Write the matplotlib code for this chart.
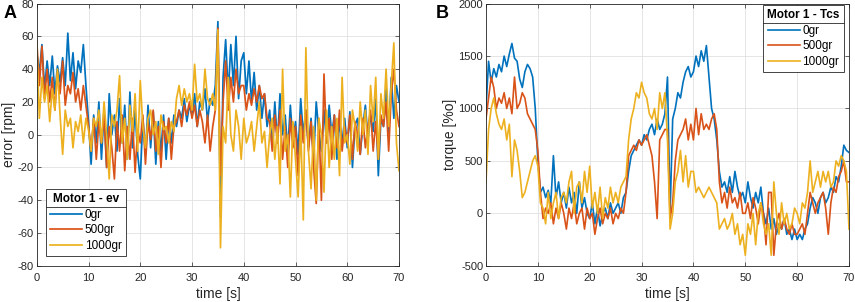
import matplotlib
matplotlib.use('Agg')
import matplotlib.pyplot as plt
import numpy as np

plt.rcParams['font.family'] = ['Liberation Sans', 'DejaVu Sans']
plt.rcParams['axes.unicode_minus'] = False

# time axis, 0.5 s steps
t = np.arange(0, 70.01, 0.5)

# speed error [rpm]
ev_0 = [50, 38, 55, 28, 45, 30, 48, 25, 42, 32,
        47, 30, 62, 33, 50, 28, 45, 38, 55, 30,
        8, -18, 12, -5, 20, -15, 15, -20, 25, 0,
        12, -10, 22, -5, 18, -15, 26, -8, 15, -12,
        -27, 10, -12, 18, -8, 14, -18, 8, -10, 12,
        -15, 10, -5, 12, 5, 15, 10, 22, 8, 18,
        12, 25, 5, 20, 15, 28, 8, 22, 18, 30,
        69, -50, 35, 58, 25, 55, 30, 60, 22, 45,
        50, 25, 45, 20, 38, 15, 30, 10, 25, 5,
        15, -8, 20, -5, 25, 0, 12, -10, 18, -5,
        8, -12, 22, 0, 15, -8, 10, -15, 20, 2,
        -10, 15, -5, 18, 0, 12, -15, 8, -5, 10,
        -8, 14, -20, 6, 10, -12, 5, 18, -3, 12,
        2, 22, -25, 10, 5, 28, 0, 35, 10, 30,
        20]
ev_500 = [57, 30, 54, 22, 40, 20, 35, 15, 38, 25,
          45, 18, 30, 25, 38, 20, 28, 15, 30, 18,
          5, -10, 10, -15, 8, -5, 12, -20, 5, -8,
          -27, 8, -10, 12, -22, 5, -15, 10, -23, 3,
          -5, 12, -18, 8, -3, 15, -10, 5, -20, 8,
          -5, 10, -15, 5, 8, 15, 5, 18, 12, 20,
          10, 18, 5, 15, 8, -5, 12, -10, 5, 15,
          65, -25, 20, 45, 15, 35, 20, 40, 25, 30,
          30, 15, 25, 18, 28, 20, 30, 22, 25, 10,
          8, -10, 12, -5, 15, -15, 5, -20, 10, -8,
          5, -25, 12, -5, 15, -10, 8, -20, -42, 10,
          -40, 37, -5, 10, -15, 12, -8, 15, -10, 5,
          -5, 12, -15, 8, 0, -12, 10, -8, 5, 15,
          -10, 8, -15, 12, 5, 20, -10, 25, 40, 15,
          5]
ev_1000 = [55, 10, 35, 20, 30, 8, 28, 15, 40, 12,
           -12, 15, 5, 10, -8, 8, 2, 12, -5, 10,
           3, -10, 10, 5, 15, -5, 20, 0, -27, 12,
           5, 15, 36, -5, 10, -15, 18, 2, 25, -10,
           33, 5, -8, 10, 15, 0, 8, -12, 12, 3,
           5, -5, 8, 2, 22, 30, 18, 28, 20, 25,
           15, 43, 20, 25, 15, 40, 22, 18, 25, 15,
           64, -69, 5, -5, 35, 0, -10, 15, 5, -15,
           10, -5, 0, 8, -10, 5, 20, -5, 2, -20,
           0, 10, -15, 5, -30, 40, -10, 0, -38, 8,
           -15, -38, 5, -52, 53, -10, -33, 5, -40, 10,
           0, -35, 15, -20, 5, -15, 10, -25, 35, -5,
           0, -18, 15, 5, -10, 20, 0, 15, -12, 30,
           8, 35, -15, 25, 10, 40, 5, 30, 56, -5,
           -22]

# torque [%o]
tq_0 = [1000, 1450, 1250, 1380, 1300, 1420, 1350, 1500, 1400, 1520,
        1620, 1480, 1450, 1280, 1200, 1350, 1420, 1380, 1300, 1000,
        500, 200, 250, 150, 220, 100, 550, 150, 300, 100,
        200, 50, 250, 100, 200, 0, 300, 50, 150, 0,
        -50, 100, -100, 50, -120, 0, 50, -50, 100, 0,
        50, 100, 0, 150, 200, 400, 550, 600, 650, 700,
        650, 750, 700, 800, 850, 750, 900, 800, 850, 950,
        1300, 0, 900, 1000, 1150, 1100, 1250, 1350, 1400, 1300,
        1350, 1500, 1400, 1550, 1450, 1600, 1300, 1000, 900, 700,
        400, 250, 300, 200, 350, 200, 400, 250, 150, 200,
        100, 300, 150, 50, 200, 100, 250, 0, -100, 50,
        -150, -50, -200, -100, -150, -50, -200, -150, -250, -150,
        -250, -200, -250, -150, -100, 50, 150, 100, 0, 150,
        200, 100, 150, 250, 200, 350, 300, 450, 650, 600,
        580]
tq_500 = [900, 1100, 1300, 1200, 1000, 1100, 1050, 1150, 1000, 1100,
          950, 1300, 1000, 1050, 1150, 1100, 950, 900, 850, 800,
          600, 200, -50, 50, 0, 100, -100, 50, -50, 100,
          0, -150, 50, -50, 100, -100, 0, 50, -150, 50,
          -50, 0, -200, -50, 50, -100, 0, -50, 50, -100,
          0, -50, 50, 0, 200, 550, 600, 650, 600, 700,
          650, 700, 750, 650, 550, 300, -50, 700, 750, 800,
          800, -50, 100, 500, 700, 750, 800, 900, 700, 850,
          700, 1000, 750, 950, 800, 850, 800, 900, 950, 800,
          300, 100, 200, 50, 250, 100, 150, 50, 200, 0,
          0, 100, -50, 150, 50, -100, 100, 0, -300, 200,
          200, -400, -100, 0, -150, -50, -150, -200, -100, -200,
          -200, -150, -100, -200, 0, 200, 100, 0, 100, 150,
          200, 50, -200, 100, 250, 200, 350, 400, 500, 300,
          300]
tq_1000 = [300, 800, 1000, 1100, 950, 850, 800, 900, 700, 850,
           350, 700, 600, 400, 150, 200, 300, 400, 500, 550,
           450, 100, 50, -100, 200, -50, 100, 200, -50, 150,
           200, 100, 300, 400, 0, 250, 300, 100, 400, 200,
           450, 50, 200, 0, 250, -50, 150, 50, 250, 100,
           200, 100, 250, 300, 350, 700, 900, 1000, 1150, 1100,
           1250, 1150, 1100, 950, 900, 1000, 800, 1150, 1000, 1150,
           700, -150, 0, 300, 400, 600, 300, 550, 250, 400,
           400, 200, 250, 200, 150, 200, 250, 200, 150, 100,
           -150, -100, -50, -150, -100, 0, -200, -100, -300, -200,
           -400, -100, -200, 0, -300, 0, 100, -100, -200, -100,
           -400, 300, 0, -200, 100, -100, 0, -150, -100, 50,
           0, -100, 100, 50, 200, 500, 200, 300, 400, 250,
           400, 300, 400, 250, 300, 500, 450, 550, 500, 400,
           -150]

labels = ['0gr', '500gr', '1000gr']
colors = ['#0072BD', '#D95319', '#EDB120']

fig = plt.figure(figsize=(8.55, 3.02), dpi=100)
ax1 = fig.add_axes([0.043, 0.120, 0.4237, 0.868])
ax2 = fig.add_axes([0.5684, 0.120, 0.4246, 0.868])


def style(ax, ylim, yticks):
    ax.set_xlim(0, 70)
    ax.set_ylim(*ylim)
    ax.set_xticks(np.arange(0, 71, 10))
    ax.set_yticks(yticks)
    ax.grid(True, color='0.88', linewidth=0.6)
    ax.set_axisbelow(True)
    ax.tick_params(direction='in', length=3, width=0.5, labelsize=8,
                   top=True, right=True, colors='0.15', pad=2)
    ax.tick_params(axis='x', pad=5)
    for s in ax.spines.values():
        s.set_color('0.15')
        s.set_linewidth(0.6)
    ax.set_xlabel('time [s]', fontsize=10, color='0.15', labelpad=3)


def legend(ax, title, loc, anchor):
    leg = ax.legend(title=title, loc=loc, bbox_to_anchor=anchor,
                    borderaxespad=0, fontsize=8.5,
                    title_fontproperties={'weight': 'bold', 'size': 8.5},
                    fancybox=False, edgecolor='0.15', framealpha=1,
                    handlelength=2.7, handletextpad=0.2, labelspacing=0.3,
                    borderpad=0.35)
    leg.get_frame().set_linewidth(0.6)
    return leg


for y, c, lab in zip([ev_0, ev_500, ev_1000], colors, labels):
    ax1.plot(t, y, color=c, linewidth=1.25, label=lab)
style(ax1, (-80, 80), np.arange(-80, 81, 20))
ax1.set_ylabel('error [rpm]', fontsize=10, color='0.15', labelpad=1)
leg1 = legend(ax1, 'Motor 1 - ev', 'lower left', (0.026, 0.037))

for y, c, lab in zip([tq_0, tq_500, tq_1000], colors, labels):
    ax2.plot(t, y, color=c, linewidth=1.2, label=lab)
style(ax2, (-500, 2000), np.arange(-500, 2001, 500))
ax2.set_ylabel('torque [%o]', fontsize=10, color='0.15', labelpad=1)
leg2 = legend(ax2, 'Motor 1 - Tcs', 'upper right', (0.986, 0.994))

fig.text(0.004, 0.985, 'A', fontsize=13, fontweight='bold', va='top')
fig.text(0.510, 0.985, 'B', fontsize=13, fontweight='bold', va='top')

# separator line under the legend titles
fig.canvas.draw()
r = fig.canvas.get_renderer()
inv = fig.transFigure.inverted()
for leg in (leg1, leg2):
    fb = leg.get_frame().get_window_extent(r)
    tb = leg.get_title().get_window_extent(r)
    ysep = tb.y0 - 2
    (x0, y0), (x1, y1) = inv.transform([(fb.x0, ysep), (fb.x1, ysep)])
    fig.add_artist(plt.Line2D([x0, x1], [y0, y1], color='0.15', linewidth=0.6))

fig.savefig('out.png', dpi=100)
